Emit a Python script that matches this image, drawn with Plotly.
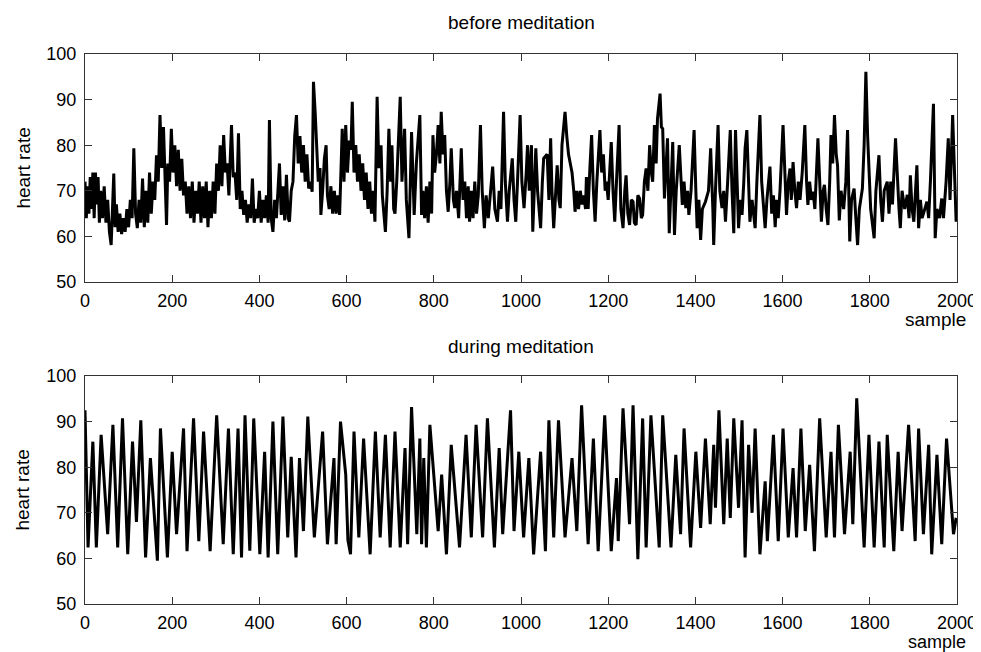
import plotly.graph_objects as go

# ---- data (sample index, heart rate) ----
before_x = [0,3,6,9,12,15,18,21,24,27,30,33,36,40,44,48,52,56,60,63,66,69,72,76,80,84,88,92,96,100,
            104,108,112,116,120,124,128,132,136,140,144,148,152,156,160,164,168,172,176,180,184,187,190,194,198,
            202,206,210,214,218,222,226,230,234,238,242,246,250,254,258,262,266,270,274,278,282,286,290,294,298,
            302,306,310,314,318,322,326,330,336,340,344,348,352,356,360,364,368,372,376,380,384,388,392,
            396,400,404,408,412,416,420,423,427,431,435,439,446,450,454,458,462,466,469,473,477,481,485,489,493,
            497,501,505,509,513,517,521,524,528,532,535,539,541,545,549,553,556,560,564,568,572,576,580,584,590,
            594,598,602,606,610,613,617,621,625,629,633,637,641,645,649,653,657,661,665,670,674,679,682,689,693,
            697,701,704,708,711,715,723,727,733,737,743,747,749,755,760,768,772,
            775,779,783,787,791,795,798,802,806,810,814,817,821,825,829,833,837,840,845,848,852,857,863,867,871,
            875,879,882,886,890,894,898,902,907,911,916,920,925,935,940,946,950,954,960,964,969,973,980,984,988,
            992,998,1002,1007,1012,1015,1019,1024,1027,1032,1034,1038,1045,1049,1052,1060,1064,1068,1071,1075,
            1079,1083,1087,1090,1094,1098,1101,1105,1109,1113,1117,1121,1124,1128,1132,1136,1140,1144,1148,
            1150,1154,1158,1162,1166,1170,1174,1181,1185,1189,1193,1196,1200,1207,1211,1215,1219,1225,1229,1234,
            1238,1241,1245,1249,1253,1257,1260,1264,1268,1272,1276,1279,1283,1287,1291,1295,1299,1302,1306,1310,
            1313,1319,1322,1325,1329,1336,1340,1344,1348,1352,1356,1363,1368,1370,1374,1378,1382,1385,1390,1397,
            1401,1404,1408,1412,1416,1423,1430,1435,1440,1442,1446,1452,1456,1461,1465,1469,1474,1480,1484,1488,
            1492,1496,1499,1503,1507,1511,1514,1518,1522,1525,1530,1537,1541,1548,
            1552,1556,1560,1564,1571,1575,1579,1583,1586,1590,1594,1601,1605,1609,1613,1617,1620,1624,1628,1632,
            1636,1640,1645,1651,1655,1658,1662,1666,1670,1674,1681,1685,1689,1693,1696,1700,1704,1708,1711,1715,
            1719,1723,1726,1730,1734,1740,1745,1749,1754,1758,1764,1768,1772,1776,1783,1787,1791,1795,1798,1802,
            1810,1814,1821,1825,1829,1833,1840,1844,1848,1852,1859,1863,1867,1870,1874,1880,1886,1890,1893,1897,
            1901,1908,1912,1916,1920,1931,1935,1939,1946,1950,1954,1960,1965,1969,1975,1980,1984,1990,1994,1998]
before_y = [72,64,71,65,73,66,74,64,74,67,73,63,70,64,71,63,68,61,58.1,66,73.8,62,67,61,65,60.5,64,61,66,62,
            68,64,79.3,65,61.8,68,63,72.7,62,70,63,74,65,72,68,77.8,72,86.6,75,84,70,62.5,76,72,83.6,
            74,80,71,79,70,77,69,72,65,71,64,72,63,70,65,72,63,71,64,72,62,70,64,72,65,
            76,70,80,71,82.2,74,76,69,84.4,73,74,68,82.6,66,70,64.7,68,63,67,64,72.7,63,66,
            64,70,63,68,64,69,63,85.5,64,61,68,64,76,64.7,71,63.5,73.5,64,63.2,70,72,82,86.6,76,82,
            74,80,72,78,70.5,72,69.8,93.9,87,80,72,75,64.7,70,77,80,69,66,71,65,70,65,69,64.7,83.6,
            72,84.4,74,81,79,89.5,74,80,72,78,70,76,68,74,66,72,65,70,63.2,90.6,75,80,69,61,70,
            83.6,72,80,66,65,72,90.6,72,83.6,68,59.6,75,82.9,64.7,76,86.6,64.7,
            70,64,71,63,72,65,82.2,74,78,84.4,76,87.3,78,82.2,70,65.4,72,79.3,68,66.2,70,64,79.3,68,72,
            64,71,63.2,70,64,72,65,69,84.4,70,61.8,69,64,75.3,66,63.2,70,66,87.3,72,63.2,70,77.1,68,63.2,
            72,86.6,72,66.2,74,80,70,80,61,72,79.3,70,61.8,72,77.1,78,68,81.5,70,61.8,
            70,75.6,68,66.2,80,84,87.3,82,78,76,74,70,65.4,70,66,70,67,69,66,
            73,66,75,82.2,70,63.2,72,83.3,74,78,70,72,68,80.7,70,63.2,72,84.4,66,61.8,
            70,73.4,65,62.5,68,67.6,63,62.5,69,68.3,64,64.7,72,74.9,70,80,74,72,84.4,76,
            85.8,91.3,84,83.6,68.3,81.5,60.7,72,80.7,60.3,70,80,70,66.9,72,66.2,70,64.7,70,83.3,
            70,61.8,68,59.2,66,67.6,70,79.3,66,58.1,70,84.4,70,66.2,70,63.2,72,83.3,70,60.7,
            83.3,68,61.8,68,64.7,72,79.3,83.3,70,63.2,68,61.8,72,86.6,
            72,66,61.8,68,75.3,65,69,62,68,64,70,84.4,72,64.7,72,74.9,68,76.3,70,66.2,
            72,68,74,84.4,72,66.9,72,68,69.8,66,81.5,70,63.2,70,71.3,66,62.5,72,82.2,76,
            86.6,78,75.6,63.5,70,66,72,83.3,58.9,68,70.5,64,58.1,66,70.5,80,96.1,82,74.9,66,
            59.6,70,77.8,68,63.2,70,72,65,72,67,81.5,72,66,61.8,70,66,69.1,64,73.4,66,
            63.2,75.6,61.8,68,64,67.6,64,72,89.1,59.6,66,64,68.3,64,72,81.5,68,86.6,72,63.2]

during_x = [0,7,18,26,37,52,64,75,86,98,109,118,128,139,150,166,173,189,200,210,226,234,249,261,272,287,
            302,317,329,340,351,359,367,378,387,401,412,420,431,442,454,465,473,484,492,501,511,526,545,556,
            571,576,586,598,603,609,617,628,639,654,666,677,689,700,711,723,734,740,749,761,768,772,777,783,
            791,810,818,829,840,859,874,886,897,912,923,939,950,958,976,984,995,1006,1018,1029,1045,1056,
            1064,1075,1086,1101,1117,1128,1139,1154,1166,1177,1192,1207,1219,1223,1234,1249,1257,1268,1279,
            1287,1298,1317,1325,1344,1355,1366,1374,1389,1401,1412,1423,1434,1442,1446,1454,1465,1473,1480,
            1488,1499,1507,1514,1522,1530,1537,1548,1560,1565,1579,1590,1601,1613,1624,1632,1642,1652,1662,
            1673,1685,1700,1711,1719,1728,1742,1755,1761,1770,1787,1798,1810,1821,1833,1840,1855,1865,1874,
            1889,1904,1912,1923,1935,1942,1954,1965,1976,1992,1998]
during_y = [92.5,62.4,85.6,62.4,87.1,65.3,89.3,62.4,90.7,60.9,85.6,68,90.3,60.2,82,59.5,88.5,60.2,83.4,65.3,
            88.5,61.6,90.7,63.8,87.8,61.6,91.4,63.1,88.5,60.9,88.5,60.2,91.4,61.7,90.7,60.9,83.4,60.2,90.0,
            60.9,91.1,64.6,82.3,60.2,82.0,66,91.1,64.6,87.8,63.1,82.0,63.1,90.0,78.4,64,60.9,87.8,64.6,86.3,
            60.9,87.8,64.6,87.1,62.4,87.8,62.4,84.2,63.1,93.2,65.3,86.3,63.1,82,62.4,
            89.3,66.0,78.4,60.9,84.9,62.4,87.1,64.6,89.3,64.6,90.7,62.4,84.2,65.3,92.5,66.0,83.4,64.6,82.0,
            60.9,83.4,61.6,90.3,64.6,90.3,64.6,82.0,66.0,93.6,63.1,86.3,61.6,91.4,61.6,77.6,63.8,92.9,67.5,
            93.6,59.8,90.7,62.4,91.4,62.4,91.4,62.4,82.7,65.3,88.5,62.4,83.4,66.7,86.3,67.5,84.9,71.1,92.5,
            67.5,86.3,68.9,90.7,71.1,90.3,60.2,84.9,70,88.5,60.9,76.9,63.8,87.1,63.8,88.5,64.6,79.8,64.6,
            88.5,66.0,80.5,61.6,90.7,64.6,83.4,64.6,89.3,65.3,83.4,67.5,95.1,62.4,87.1,62.4,85.6,62.4,87.1,
            61.6,83.4,66.0,89.3,63.8,88.5,65.3,84.9,60.9,82.7,63.1,86.3,65.3,68.9]

x_ticks = [0, 200, 400, 600, 800, 1000, 1200, 1400, 1600, 1800, 2000]
y_ticks = [50, 60, 70, 80, 90, 100]
titles = ["before meditation", "during meditation"]

FONT = "Liberation Sans, Arial, sans-serif"

fig = go.Figure()
fig.add_trace(go.Scatter(x=before_x, y=before_y, mode="lines",
                         line=dict(color="black", width=3), xaxis="x", yaxis="y", showlegend=False))
fig.add_trace(go.Scatter(x=during_x, y=during_y, mode="lines",
                         line=dict(color="black", width=3), xaxis="x2", yaxis="y2", showlegend=False))

axis_common = dict(showline=True, linecolor="#333", linewidth=1, mirror="ticks",
                   ticks="inside", ticklen=7, tickcolor="#333", showgrid=False, zeroline=False,
                   tickfont=dict(family=FONT, size=18, color="black"))

fig.update_layout(
    width=981, height=652,
    margin=dict(l=77, r=24, t=46, b=56),
    paper_bgcolor="white", plot_bgcolor="white",
    xaxis=dict(domain=[0, 1], range=[0, 2000], tickvals=x_ticks, anchor="y",
               ticklabelstandoff=2, **axis_common),
    yaxis=dict(domain=[0.5855, 1.0], range=[50, 100], tickvals=y_ticks, anchor="x",
               ticklabelstandoff=4, **axis_common),
    xaxis2=dict(domain=[0, 1], range=[0, 2000], tickvals=x_ticks, anchor="y2",
                ticklabelstandoff=2, **axis_common),
    yaxis2=dict(domain=[0.0, 0.4145], range=[50, 100], tickvals=y_ticks, anchor="x2",
                ticklabelstandoff=4, **axis_common),
)

ann_font = dict(family=FONT, size=19, color="black")
annotations = [
    dict(text=titles[0], x=0.5, y=1.058, xref="paper", yref="paper", showarrow=False,
         xanchor="center", yanchor="middle", font=ann_font),
    dict(text=titles[1], x=0.5, y=0.469, xref="paper", yref="paper", showarrow=False,
         xanchor="center", yanchor="middle", font=ann_font),
    dict(text="sample", x=1.0125, y=0.518, xref="paper", yref="paper", showarrow=False,
         xanchor="right", yanchor="middle", font=ann_font),
    dict(text="sample", x=1.0125, y=-0.069, xref="paper", yref="paper", showarrow=False,
         xanchor="right", yanchor="middle", font=dict(family=FONT, size=18, color="black")),
    dict(text="heart rate", x=-0.0716, y=0.7927, xref="paper", yref="paper", showarrow=False,
         textangle=-90, xanchor="center", yanchor="middle", font=ann_font),
    dict(text="heart rate", x=-0.0716, y=0.2073, xref="paper", yref="paper", showarrow=False,
         textangle=-90, xanchor="center", yanchor="middle", font=ann_font),
]
fig.update_layout(annotations=annotations)

fig.write_html("out.html")
